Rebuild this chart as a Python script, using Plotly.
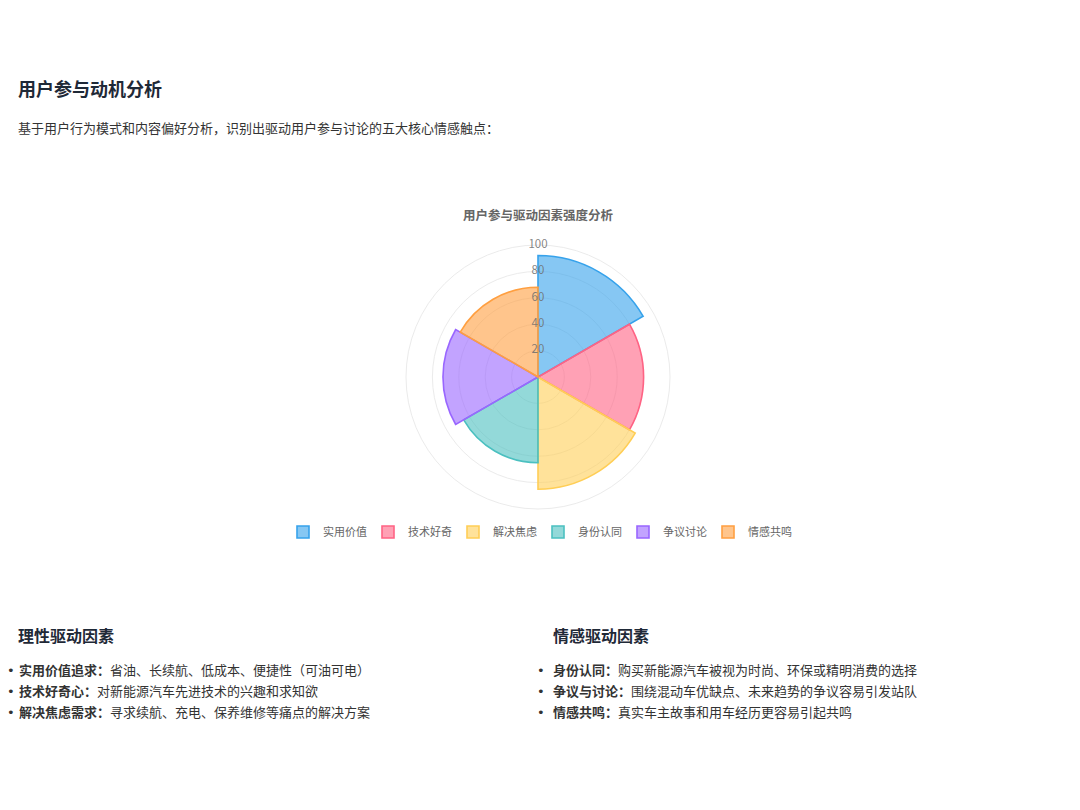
import plotly.graph_objects as go

# ---- data ----
categories = ["实用价值", "技术好奇", "解决焦虑", "身份认同", "争议讨论", "情感共鸣"]
values = [92, 80, 85, 65, 72, 68]
fill_colors = ["rgba(54,162,235,0.6)", "rgba(255,99,132,0.6)", "rgba(255,206,86,0.6)",
               "rgba(75,192,192,0.6)", "rgba(153,102,255,0.6)", "rgba(255,159,64,0.6)"]
line_colors = ["rgb(54,162,235)", "rgb(255,99,132)", "rgb(255,206,86)",
               "rgb(75,192,192)", "rgb(153,102,255)", "rgb(255,159,64)"]
radial_ticks = [20, 40, 60, 80, 100]
radial_tick_labels = ["20", "40", "60", "80", "100"]

heading = "用户参与动机分析"
intro = "基于用户行为模式和内容偏好分析，识别出驱动用户参与讨论的五大核心情感触点："
chart_title = "用户参与驱动因素强度分析"
left_title = "理性驱动因素"
left_items = [("实用价值追求：", "省油、长续航、低成本、便捷性（可油可电）"),
              ("技术好奇心：", "对新能源汽车先进技术的兴趣和求知欲"),
              ("解决焦虑需求：", "寻求续航、充电、保养维修等痛点的解决方案")]
right_title = "情感驱动因素"
right_items = [("身份认同：", "购买新能源汽车被视为时尚、环保或精明消费的选择"),
               ("争议与讨论：", "围绕混动车优缺点、未来趋势的争议容易引发站队"),
               ("情感共鸣：", "真实车主故事和用车经历更容易引起共鸣")]

FONT = "Noto Sans CJK SC"
W, H = 1080, 810
OFF = 8  # page body margin

fig = go.Figure()

for cat, v, fc, lc in zip(categories, values, fill_colors, line_colors):
    fig.add_trace(go.Barpolar(
        r=[v], theta=[cat], name=cat,
        marker=dict(color=fc, line=dict(color=lc, width=1.6)),
        hoverinfo="skip", subplot="polar",
    ))

fig.add_trace(go.Scatterpolar(
    r=radial_ticks, theta=[0] * len(radial_ticks), text=radial_tick_labels,
    mode="text", textfont=dict(family=FONT, size=11.5, color="rgba(110,110,110,0.85)"),
    showlegend=False, hoverinfo="skip", subplot="polar2",
))

cx, cy, rad = 538 - OFF, 377 - OFF, 132
dom_x = [(cx - rad) / W, (cx + rad) / W]
dom_y = [(H - cy - rad) / H, (H - cy + rad) / H]

fig.update_layout(
    width=W, height=H,
    margin=dict(l=0, r=0, t=0, b=0),
    paper_bgcolor="white", plot_bgcolor="white",
    font=dict(family=FONT, color="#333"),
    polar=dict(
        domain=dict(x=dom_x, y=dom_y),
        bgcolor="rgba(0,0,0,0)",
        bargap=0,
        radialaxis=dict(range=[0, 100], tickvals=radial_ticks, showticklabels=False,
                        ticks="", showline=False, gridcolor="#ebebeb", gridwidth=1),
        angularaxis=dict(type="category", categoryarray=categories, direction="clockwise",
                         rotation=60, showgrid=False, showticklabels=False, ticks="",
                         showline=True, linecolor="#ebebeb", linewidth=1),
    ),
    polar2=dict(
        domain=dict(x=dom_x, y=dom_y),
        bgcolor="rgba(0,0,0,0)",
        radialaxis=dict(range=[0, 100], visible=False, showgrid=False),
        angularaxis=dict(direction="clockwise", rotation=90, visible=False, showgrid=False),
    ),
    showlegend=True,
    legend=dict(orientation="h", x=(538 - OFF) / W, xanchor="center",
                y=(H - (532 - OFF)) / H, yanchor="middle",
                font=dict(family=FONT, size=11, color="#666"), itemwidth=30,
                entrywidth=40, entrywidthmode="pixels",
                itemclick=False, itemdoubleclick=False, bgcolor="rgba(0,0,0,0)"),
)

ann = []
def add_text(x, y, text, size, color, anchor="left", family=FONT, pad=1, xshift=0):
    ann.append(dict(x=(x - OFF) / W, y=(H - (y - OFF)) / H, xref="paper", yref="paper",
                    text=text, showarrow=False, xanchor=anchor, yanchor="middle",
                    borderpad=pad, xshift=xshift,
                    font=dict(family=family, size=size, color=color)))

add_text(15.5, 88, f"<b>{heading}</b>", 18, "#1f2937")
add_text(15.5, 127, intro, 13, "#333")
add_text(538, 215, f"<b>{chart_title}</b>", 12.5, "#666", anchor="center")

add_text(15.5, 635, f"<b>{left_title}</b>", 16, "#1f2937")
add_text(550.5, 635, f"<b>{right_title}</b>", 16, "#1f2937")
for i, (b, t) in enumerate(left_items):
    y = 669 + 21 * i
    add_text(8, y + 1, "•", 13, "#333", family="DejaVu Sans", pad=0, xshift=-2)
    add_text(16.5, y, f"<b>{b}</b>{t}", 13, "#333")
for i, (b, t) in enumerate(right_items):
    y = 669 + 21 * i
    add_text(535, y + 1, "•", 13, "#333", family="DejaVu Sans")
    add_text(550.5, y, f"<b>{b}</b>{t}", 13, "#333")

fig.update_layout(annotations=ann)
fig.write_html("out.html")
